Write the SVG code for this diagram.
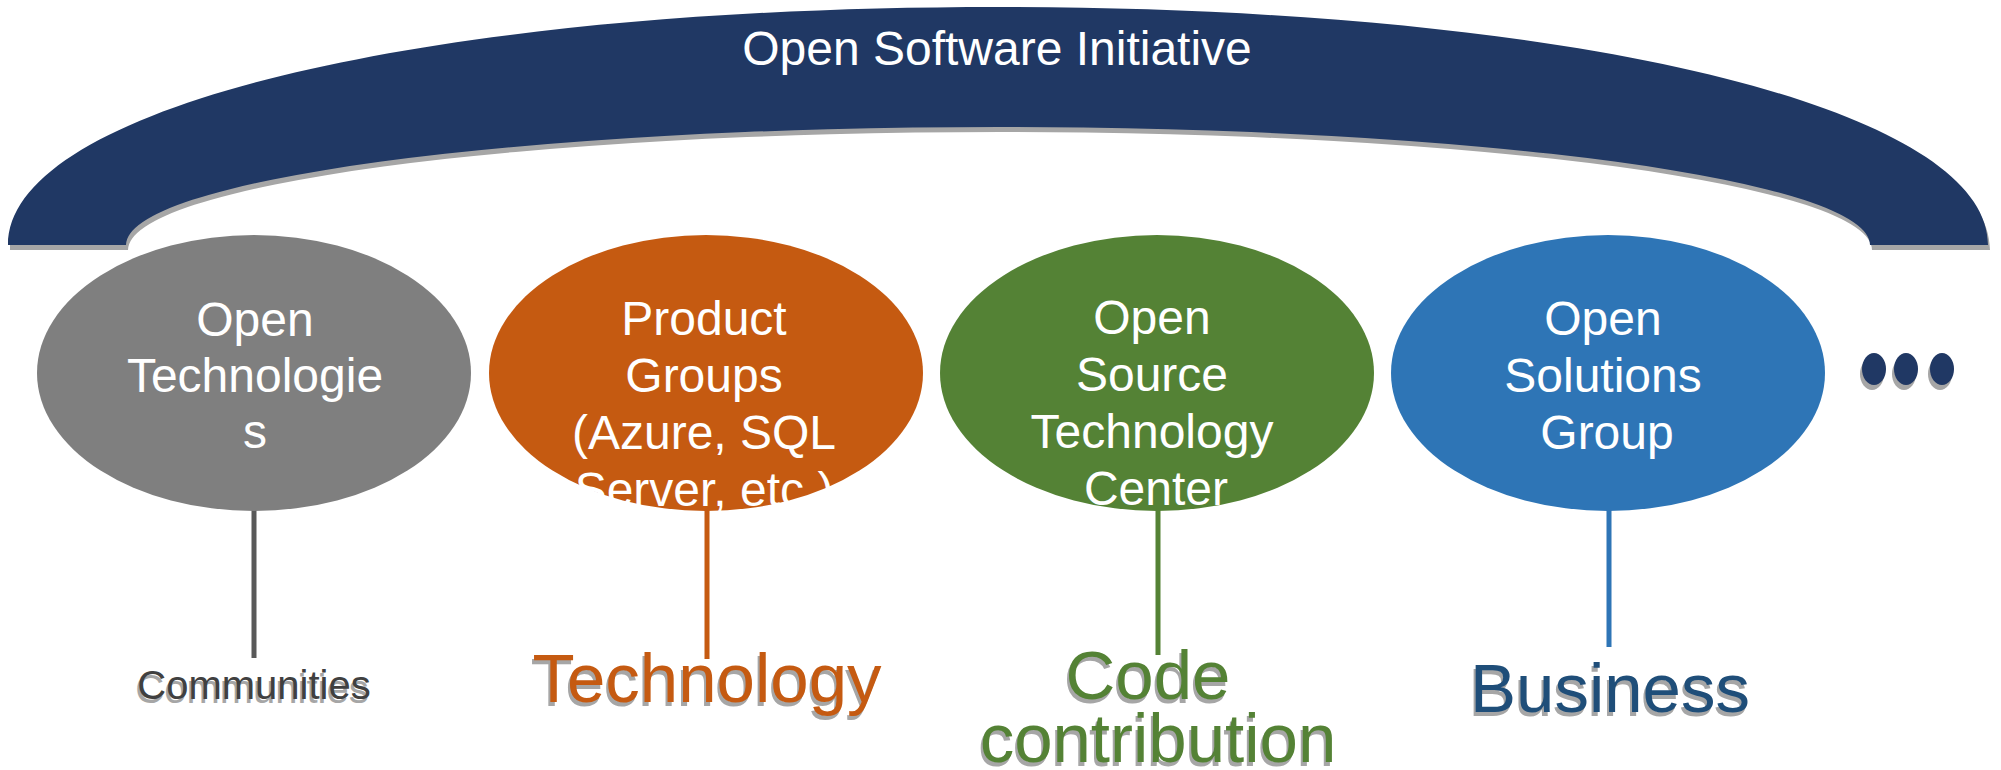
<svg xmlns="http://www.w3.org/2000/svg" width="2001" height="770" viewBox="0 0 2001 770">
<style>
  .lbl { font-family: "Liberation Sans", Arial, sans-serif; fill: #ffffff; font-size: 48px; text-anchor: middle; }
  .title { font-family: "Liberation Sans", Arial, sans-serif; fill: #ffffff; font-size: 48px; text-anchor: middle; }
  .big { font-family: "Liberation Sans", Arial, sans-serif; font-size: 69px; text-anchor: middle; }
  .shadow { fill: #a6a6a6; }
  .conn { stroke-width: 5; fill: none; }
</style>
<defs>
  <path id="arch" d="M8,245 C8,107 424,7 998,7 C1572,7 1988,107 1988,245 L1870,245 A872,118 0 0 0 126,245 Z"/>
</defs>
<rect width="2001" height="770" fill="#ffffff"/>

<g id="initiative">
  <use href="#arch" transform="translate(2,5)" fill="#a6a6a6"/>
  <use href="#arch" fill="#203864"/>
  <text class="title" x="997" y="65">Open Software Initiative</text>
</g>

<g id="connectors">
  <line class="conn" x1="254" y1="510" x2="254" y2="658" stroke="#595959"/>
  <line class="conn" x1="707" y1="510" x2="707" y2="659" stroke="#c55a11"/>
  <line class="conn" x1="1158" y1="510" x2="1158" y2="655" stroke="#548235"/>
  <line class="conn" x1="1609" y1="510" x2="1609" y2="647" stroke="#2e75b6"/>
</g>

<g id="open-technologies">
  <ellipse cx="254" cy="373" rx="217" ry="138" fill="#7f7f7f"/>
  <text class="lbl" x="255" y="336">Open</text>
  <text class="lbl" x="255" y="392">Technologie</text>
  <text class="lbl" x="255" y="448">s</text>
</g>

<g id="product-groups">
  <ellipse cx="706" cy="373" rx="217" ry="138" fill="#c55a11"/>
  <text class="lbl" x="704" y="335">Product</text>
  <text class="lbl" x="704" y="392">Groups</text>
  <text class="lbl" x="704" y="449">(Azure, SQL</text>
  <text class="lbl" x="704" y="506">Server, etc.)</text>
</g>

<g id="ostc">
  <ellipse cx="1157" cy="373" rx="217" ry="138" fill="#548235"/>
  <text class="lbl" x="1152" y="334">Open</text>
  <text class="lbl" x="1152" y="391">Source</text>
  <text class="lbl" x="1152" y="448">Technology</text>
  <text class="lbl" x="1156" y="505">Center</text>
</g>

<g id="open-solutions-group">
  <ellipse cx="1608" cy="373" rx="217" ry="138" fill="#2e75b6"/>
  <text class="lbl" x="1603" y="335">Open</text>
  <text class="lbl" x="1603" y="392">Solutions</text>
  <text class="lbl" x="1607" y="449">Group</text>
</g>

<g id="more">
  <ellipse class="shadow" cx="1872" cy="374" rx="12" ry="16"/>
  <ellipse class="shadow" cx="1904" cy="374" rx="12" ry="16"/>
  <ellipse class="shadow" cx="1940" cy="374" rx="12" ry="16"/>
  <ellipse cx="1874" cy="369" rx="12" ry="16" fill="#203864"/>
  <ellipse cx="1906" cy="369" rx="12" ry="16" fill="#203864"/>
  <ellipse cx="1942" cy="369" rx="12" ry="16" fill="#203864"/>
</g>

<g id="communities">
  <text x="252" y="703" font-family="Liberation Sans, Arial, sans-serif" font-size="40" text-anchor="middle" fill="#a6a6a6">Communities</text>
  <text x="254" y="699" font-family="Liberation Sans, Arial, sans-serif" font-size="40" text-anchor="middle" fill="#404040">Communities</text>
</g>

<g id="technology">
  <text class="big shadow" x="705" y="706">Technology</text>
  <text class="big" x="707" y="702" fill="#c55a11">Technology</text>
</g>

<g id="code-contribution">
  <text class="big shadow" x="1146" y="703">Code</text>
  <text class="big shadow" x="1156" y="766">contribution</text>
  <text class="big" x="1148" y="699" fill="#548235">Code</text>
  <text class="big" x="1158" y="762" fill="#548235">contribution</text>
</g>

<g id="business">
  <text class="big shadow" x="1608" y="716" font-size="68">Business</text>
  <text class="big" x="1610" y="712" font-size="68" fill="#1f4e79">Business</text>
</g>
</svg>
